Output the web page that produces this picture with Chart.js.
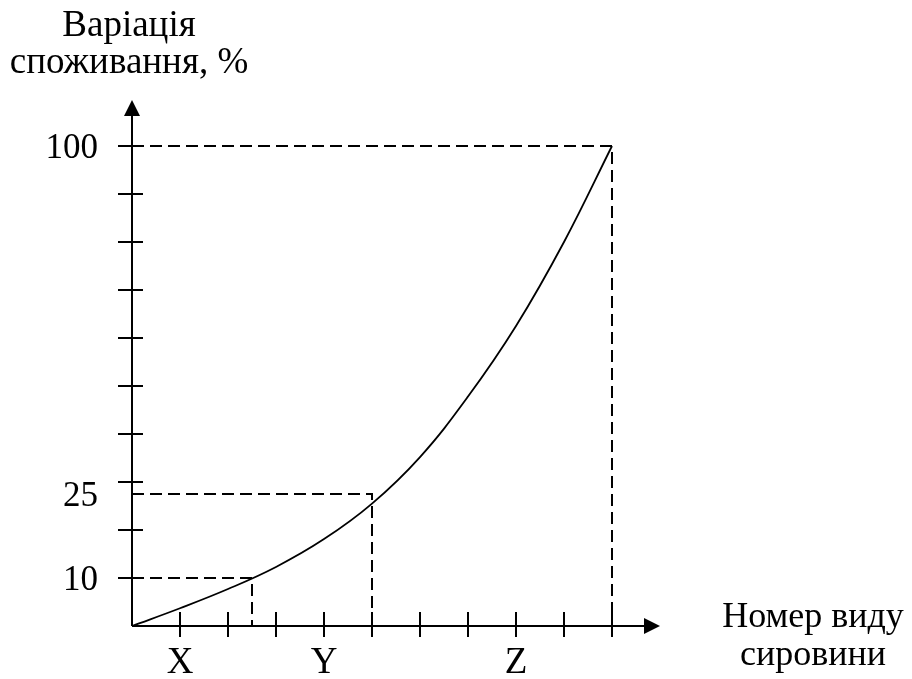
<!DOCTYPE html>
<html>
<head>
<meta charset="utf-8">
<title>Варіація споживання</title>
<script src="https://cdn.jsdelivr.net/npm/chart.js@4.4.0/dist/chart.umd.min.js"></script>
<style>
  html, body { margin: 0; padding: 0; background: #fff; }
  #wrap { width: 912px; height: 679px; position: relative; }
</style>
</head>
<body>
<div id="wrap"><canvas id="curveChart"></canvas></div>
<script>
// curve (x = item number, y = variation, %)
const curveX = [0, 1, 2, 3, 4, 5, 6, 7, 8, 9, 10];
const curveY = [0, 3.7, 7.7, 12.3, 18.1, 25.5, 35.2, 47.8, 62.5, 80, 100];

// dashed guides, corner of each one
const guideX = [2.5, 5, 10];
const guideY = [10, 27.5, 100];
const guideLabels = ['10', '25', '100'];

// groups along the x axis
const groupNames = ['X', 'Y', 'Z'];
const groupAt = [1, 4, 8];

// tick marks and axis ends
const xTicks = [1, 2, 3, 4, 5, 6, 7, 8, 9, 10];
const yTicks = [10, 20, 30, 40, 50, 60, 70, 80, 90, 100];
const xAxisEnd = 11;
const yAxisEnd = 109.6;

const yTitle = ['Варіація', 'споживання, %'];
const xTitle = ['Номер виду', 'сировини'];

const FONT = '37px "Liberation Serif", "Times New Roman", serif';
const SIDE_FONT = '36px "Liberation Serif", "Times New Roman", serif';
const NUM_FONT = '35px "Liberation Serif", "Times New Roman", serif';

// build line datasets for the guides: (0,y) -> (x,y) -> (x,0)
function guideSets() {
    return guideX.map((gx, i) => ({
        data: [{x: 0, y: guideY[i]}, {x: gx, y: guideY[i]}, {x: gx, y: 0}],
        borderColor: '#000',
        borderWidth: 2,
        borderDash: [12, 6],
        pointRadius: 0,
        tension: 0,
        clip: false
    }));
}

function arrow(ctx, tx, ty, dx, dy) {
    // tip at (tx,ty), pointing along (dx,dy)
    const len = 16, half = 8;
    const bx = tx - dx * len, by = ty - dy * len;
    ctx.beginPath();
    ctx.moveTo(tx, ty);
    ctx.lineTo(bx - dy * half, by + dx * half);
    ctx.lineTo(bx + dy * half, by - dx * half);
    ctx.closePath();
    ctx.fill();
}

// axes with arrows, cross ticks and all the text
const sketchAxes = {
    id: 'sketchAxes',
    afterDraw(chart) {
        const ctx = chart.ctx;
        const xs = chart.scales.x, ys = chart.scales.y;
        const x0 = xs.getPixelForValue(0), y0 = ys.getPixelForValue(0);
        const xEnd = xs.getPixelForValue(xAxisEnd);
        const yEnd = ys.getPixelForValue(yAxisEnd);

        ctx.save();
        ctx.strokeStyle = '#000';
        ctx.fillStyle = '#000';
        ctx.lineWidth = 2;

        ctx.beginPath();
        ctx.moveTo(x0, y0);
        ctx.lineTo(x0, yEnd + 12);
        ctx.moveTo(x0, y0);
        ctx.lineTo(xEnd - 12, y0);
        ctx.stroke();
        arrow(ctx, x0, yEnd, 0, -1);
        arrow(ctx, xEnd, y0, 1, 0);

        ctx.beginPath();
        yTicks.forEach(v => {
            const py = ys.getPixelForValue(v);
            ctx.moveTo(x0 - 14, py);
            ctx.lineTo(x0 + 11, py);
        });
        xTicks.forEach(v => {
            const px = xs.getPixelForValue(v);
            ctx.moveTo(px, y0 - 14);
            ctx.lineTo(px, y0 + 11);
        });
        ctx.stroke();

        ctx.font = NUM_FONT;
        ctx.textAlign = 'right';
        ctx.textBaseline = 'middle';
        guideLabels.forEach((t, i) => {
            ctx.fillText(t, x0 - 34, ys.getPixelForValue(guideY[i]) + 3);
        });

        ctx.font = FONT;
        ctx.textAlign = 'center';
        ctx.textBaseline = 'alphabetic';
        groupNames.forEach((t, i) => {
            ctx.fillText(t, xs.getPixelForValue(groupAt[i]), y0 + 47);
        });

        yTitle.forEach((t, i) => {
            ctx.fillText(t, x0 - 3, chart.chartArea.top - 110 + i * 37);
        });
        ctx.font = SIDE_FONT;
        xTitle.forEach((t, i) => {
            ctx.fillText(t, chart.chartArea.right + 201, y0 + 1 + i * 38);
        });
        ctx.restore();
    }
};

function createChart() {
    const points = curveX.map((x, i) => ({x: x, y: curveY[i]}));
    const ctx = document.getElementById('curveChart').getContext('2d');
    new Chart(ctx, {
        type: 'line',
        data: {
            datasets: [{
                data: points,
                borderColor: '#000',
                borderWidth: 1.8,
                pointRadius: 0,
                tension: 0.4,
                clip: false
            }].concat(guideSets())
        },
        options: {
            responsive: true,
            maintainAspectRatio: false,
            animation: false,
            layout: {
                padding: {left: 132, right: 300, top: 146, bottom: 53}
            },
            plugins: {
                legend: {display: false},
                tooltip: {enabled: false}
            },
            scales: {
                x: {type: 'linear', min: 0, max: 10, display: false},
                y: {type: 'linear', min: 0, max: 100, display: false}
            }
        },
        plugins: [sketchAxes]
    });
}

window.onload = createChart;
</script>
</body>
</html>
